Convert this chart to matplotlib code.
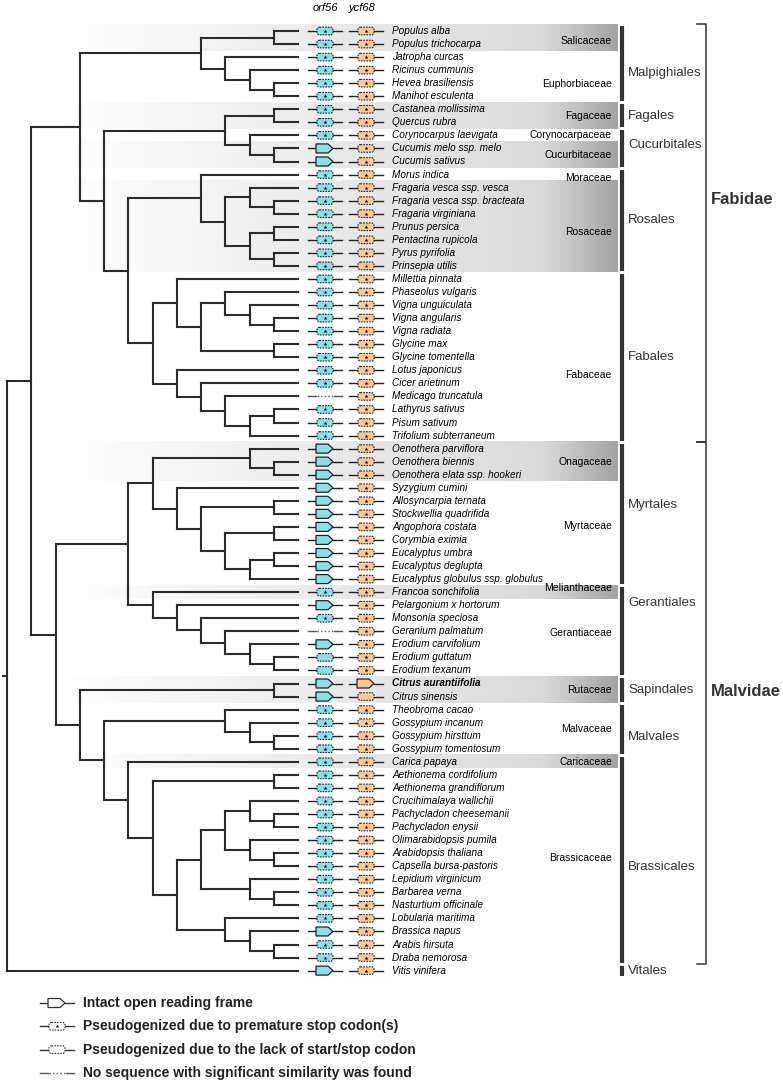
import matplotlib
matplotlib.use('Agg')
import matplotlib.pyplot as plt
import numpy as np
from matplotlib.patches import Polygon, FancyBboxPatch
from matplotlib.collections import LineCollection
from matplotlib.colors import LinearSegmentedColormap

plt.rcParams['font.family'] = ['Liberation Sans', 'DejaVu Sans']

# ---- data -------------------------------------------------------------
SPECIES = [
    "Populus alba", "Populus trichocarpa", "Jatropha curcas", "Ricinus cummunis",
    "Hevea brasiliensis", "Manihot esculenta", "Castanea mollissima", "Quercus rubra",
    "Corynocarpus laevigata", "Cucumis melo ssp. melo", "Cucumis sativus", "Morus indica",
    "Fragaria vesca ssp. vesca", "Fragaria vesca ssp. bracteata", "Fragaria virginiana",
    "Prunus persica", "Pentactina rupicola", "Pyrus pyrifolia", "Prinsepia utilis",
    "Millettia pinnata", "Phaseolus vulgaris", "Vigna unguiculata", "Vigna angularis",
    "Vigna radiata", "Glycine max", "Glycine tomentella", "Lotus japonicus",
    "Cicer arietinum", "Medicago truncatula", "Lathyrus sativus", "Pisum sativum",
    "Trifolium subterraneum", "Oenothera parviflora", "Oenothera biennis",
    "Oenothera elata ssp. hookeri", "Syzygium cumini", "Allosyncarpia ternata",
    "Stockwellia quadrifida", "Angophora costata", "Corymbia eximia", "Eucalyptus umbra",
    "Eucalyptus deglupta", "Eucalyptus globulus ssp. globulus", "Francoa sonchifolia",
    "Pelargonium x hortorum", "Monsonia speciosa", "Geranium palmatum",
    "Erodium carvifolium", "Erodium guttatum", "Erodium texanum", "Citrus aurantiifolia",
    "Citrus sinensis", "Theobroma cacao", "Gossypium incanum", "Gossypium hirsttum",
    "Gossypium tomentosum", "Carica papaya", "Aethionema cordifolium",
    "Aethionema grandiflorum", "Crucihimalaya wallichii", "Pachycladon cheesemanii",
    "Pachycladon enysii", "Olimarabidopsis pumila", "Arabidopsis thaliana",
    "Capsella bursa-pastoris", "Lepidium virginicum", "Barbarea verna",
    "Nasturtium officinale", "Lobularia maritima", "Brassica napus", "Arabis hirsuta",
    "Draba nemorosa", "Vitis vinifera",
]
BOLD_SPECIES = ["Citrus aurantiifolia"]

# tree topology (indices into SPECIES)
malpighiales = ((0, 1), (2, (3, (4, 5))))
fag_cuc = ((6, 7), (8, (9, 10)))
rosales = (11, ((12, (13, 14)), ((15, 16), (17, 18))))
fabales = ((19, ((20, (21, (22, 23))), (24, 25))), (26, (27, (28, ((29, 30), 31)))))
fabidae = (malpighiales, (fag_cuc, (rosales, fabales)))
myrtales = ((32, (33, 34)), (35, ((36, 37), ((38, 39), ((40, 41), 42)))))
geraniales = (43, (44, (45, (46, (47, (48, 49))))))
malvales = (52, (53, (54, 55)))
brassicales = (56, ((57, 58), ((((59, (60, 61)), (62, (63, 64))), (65, (66, 67))),
                                (68, (69, (70, 71))))))
malvidae = ((myrtales, geraniales), ((50, 51), (malvales, brassicales)))
TREE = ((fabidae, malvidae), 72)

# gene states per family block: I intact, P premature stop,
# L lack of start/stop, N no sequence
ORF56 = "".join([
    "PP", "PPPP", "PP", "P", "II", "P", "PPPPPPP",          # Fabidae part 1
    "PPPPPPPPPNPPP",                                         # Fabaceae
    "III", "IIIIIIII", "P", "IPNILL",                        # Myrtales, Geraniales
    "II", "PPPP", "P", "PPPPPPPPPPPPIPP", "I",               # Citrus .. Vitis
])
YCF68 = "".join([
    "PP", "PPPP", "PP", "P", "PP", "P", "PPPPPPP",
    "PPPPPPPPPPPPP",
    "PPP", "PPPPPPPP", "P", "PPPPPP",
    "IL", "PPPP", "P", "PPPPPPPPPPPPPPP", "P",
])

FAMILIES = [("Salicaceae", 0, 1), ("Euphorbiaceae", 2, 5), ("Fagaceae", 6, 7),
            ("Corynocarpaceae", 8, 8), ("Cucurbitaceae", 9, 10), ("Moraceae", 11, 11),
            ("Rosaceae", 12, 18), ("Fabaceae", 19, 31), ("Onagaceae", 32, 34),
            ("Myrtaceae", 35, 42), ("Melianthaceae", 43, 43), ("Gerantiaceae", 44, 49),
            ("Rutaceae", 50, 51), ("Malvaceae", 52, 55), ("Caricaceae", 56, 56),
            ("Brassicaceae", 57, 71)]
SHADED = ["Salicaceae", "Fagaceae", "Cucurbitaceae", "Rosaceae", "Onagaceae",
          "Melianthaceae", "Rutaceae", "Caricaceae"]
ORDERS = [("Malpighiales", 0, 5), ("Fagales", 6, 7), ("Cucurbitales", 8, 10),
          ("Rosales", 11, 18), ("Fabales", 19, 31), ("Myrtales", 32, 42),
          ("Gerantiales", 43, 49), ("Sapindales", 50, 51), ("Malvales", 52, 55),
          ("Brassicales", 56, 71), ("Vitales", 72, 72)]
SUBCLASSES = [("Fabidae", 0, 31), ("Malvidae", 32, 71)]

LEGEND = [("I", "Intact open reading frame"),
          ("P", "Pseudogenized due to premature stop codon(s)"),
          ("L", "Pseudogenized due to the lack of start/stop codon"),
          ("N", "No sequence with significant similarity was found")]

# ---- layout -----------------------------------------------------------
Y0, DY = 31.0, 13.05
X0, DX = 7.0, 24.25
ORF_X, YCF_X = 325, 366
NAME_X = 392
FAM_X, BAR_X, ORD_X, BRK_X = 612, 622, 628, 706
CYAN, ORANGE = '#86e2e4', '#f8c897'
LINE = '#2b2b2b'
fam_nudge = {"Salicaceae": 3, "Euphorbiaceae": 7, "Moraceae": 3, "Rosaceae": 5,
             "Fabaceae": 18, "Myrtaceae": -7, "Melianthaceae": -4, "Gerantiaceae": -5,
             "Brassicaceae": -8}
ord_nudge = {"Malpighiales": 9, "Cucurbitales": -3, "Myrtales": -9, "Gerantiales": -28,
             "Malvales": 8, "Brassicales": 7}
sub_nudge = {"Fabidae": -34, "Malvidae": -12}


def row_y(i):
    return Y0 + DY * i


fig = plt.figure(figsize=(7.83, 10.82), dpi=100)
ax = fig.add_axes([0, 0, 1, 1])

# shaded family bands
band_cmap = LinearSegmentedColormap.from_list(
    'band', [(0, '#ffffff'), (240 / 558, '#ececec'), (485 / 558, '#dadada'), (1, '#a4a4a4')])
grad = np.linspace(0, 1, 300).reshape(1, -1)
for name, a, b in FAMILIES:
    if name in SHADED:
        ax.imshow(grad, cmap=band_cmap, extent=(60, 618, row_y(b) + DY / 2, row_y(a) - DY / 2),
                  aspect='auto', interpolation='bilinear', zorder=0)


# tree
def sub_h(node):
    if isinstance(node, int):
        return 0
    return 1 + max(sub_h(c) for c in node)


H = sub_h(TREE)
segs = []


def place(node):
    if isinstance(node, int):
        return X0 + DX * H, row_y(node)
    x = X0 + DX * (H - sub_h(node))
    pts = [place(c) for c in node]
    ys = [p[1] for p in pts]
    segs.append([(x, min(ys)), (x, max(ys))])
    for cx, cy in pts:
        segs.append([(x, cy), (cx, cy)])
    return x, (min(ys) + max(ys)) / 2


rx, ry = place(TREE)
segs.append([(rx - 4, ry), (rx, ry)])
ax.add_collection(LineCollection(segs, colors=LINE, linewidths=1.5, capstyle='projecting', zorder=2))


def gene_marker(cx, y, state, fill, edge='#222222'):
    if state == 'N':
        ax.plot([cx - 17, cx - 9], [y, y], color='#555555', lw=1, zorder=3)
        ax.plot([cx - 8, cx + 8], [y, y], color='#555555', lw=1, ls=(0, (1, 1.6)), zorder=3)
        ax.plot([cx + 9, cx + 17], [y, y], color='#555555', lw=1, zorder=3)
        return
    ax.plot([cx - 17, cx - 9], [y, y], color=edge, lw=1, zorder=3)
    ax.plot([cx + 8, cx + 17], [y, y], color=edge, lw=1, zorder=3)
    if state == 'I':
        ax.add_patch(Polygon([(cx - 9, y - 4.5), (cx + 3, y - 4.5), (cx + 8, y),
                              (cx + 3, y + 4.5), (cx - 9, y + 4.5)], closed=True,
                             fc=fill, ec=edge, lw=0.9, zorder=4))
    else:
        ax.add_patch(FancyBboxPatch((cx - 8, y - 3.8), 16, 7.6,
                                    boxstyle='round,pad=0,rounding_size=2.5',
                                    fc=fill, ec=edge, lw=0.8, ls=(0, (1.5, 1.0)), zorder=4))
        if state == 'P':
            ax.plot(cx, y, marker='*', ms=3, color='k', mew=0, zorder=5)


for i, name in enumerate(SPECIES):
    y = row_y(i)
    gene_marker(ORF_X, y, ORF56[i], CYAN)
    gene_marker(YCF_X, y, YCF68[i], ORANGE)
    ax.text(NAME_X, y, name, fontsize=7.2, style='italic', va='center', ha='left',
            fontweight='bold' if name in BOLD_SPECIES else 'normal')

ax.text(ORF_X, 8, 'orf56', fontsize=8, style='italic', ha='center', va='center')
ax.text(YCF_X - 4, 8, 'ycf68', fontsize=8, style='italic', ha='center', va='center')

for name, a, b in FAMILIES:
    ax.text(FAM_X, (row_y(a) + row_y(b)) / 2 + fam_nudge.get(name, 0), name,
            fontsize=7.5, ha='right', va='center')

for name, a, b in ORDERS:
    ax.plot([BAR_X, BAR_X], [row_y(a) - DY / 2 + 1.5, row_y(b) + DY / 2 - 1.5],
            color='#333333', lw=3, solid_capstyle='butt')
    ax.text(ORD_X, (row_y(a) + row_y(b)) / 2 + ord_nudge.get(name, 0), name,
            fontsize=9.5, color='#333333', ha='left', va='center')

for name, a, b in SUBCLASSES:
    t, bt = row_y(a) - DY / 2, row_y(b) + DY / 2
    ax.plot([BRK_X - 9, BRK_X, BRK_X, BRK_X - 9], [t, t, bt, bt], color='#333333', lw=1.1)
    ax.text(BRK_X + 5, (t + bt) / 2 + sub_nudge.get(name, 0), name, fontsize=12,
            fontweight='bold', color='#333333', ha='left', va='center')

# legend
for k, (state, label) in enumerate(LEGEND):
    y = 1003 + 23.3 * k
    gene_marker(57, y, state, 'white', edge='#333333')
    ax.text(83, y, label, fontsize=10, fontweight='bold', color='#222222', va='center')

ax.set_xlim(0, 783)
ax.set_ylim(1082, 0)
ax.axis('off')
fig.savefig('out.png', dpi=100)
